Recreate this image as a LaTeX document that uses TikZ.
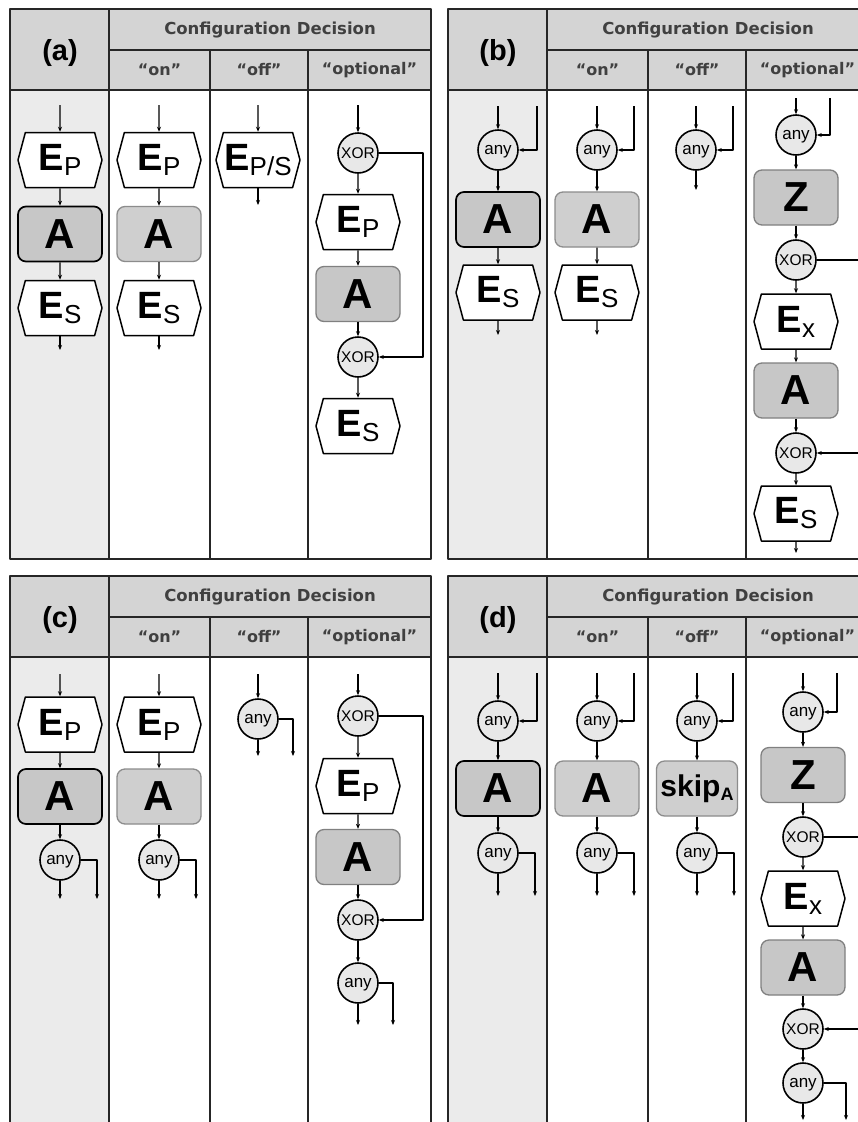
\documentclass[tikz,border=0pt]{standalone}
\usepackage{fontspec}
\setmainfont{Liberation Sans}
\newfontfamily\hdfont{DejaVu Sans}
\usetikzlibrary{shapes.symbols,arrows.meta}

\newcommand{\Ev}[1]{{\fontsize{38}{38}\selectfont\bfseries E}\raisebox{-5pt}{\fontsize{26}{26}\selectfont #1}}
\newcommand{\Act}[1]{{\fontsize{42}{42}\selectfont\bfseries #1}}
\newcommand{\Skip}{{\fontsize{30}{30}\selectfont\bfseries skip}\raisebox{-4pt}{\fontsize{18}{18}\selectfont\bfseries A}}

% frame of one panel: #1 letter, #2 left, #3 top, #4 bottom
\newcommand{\drawpanel}[4]{%
  \fill[black!8] (#2,#3+81) rectangle (#2+99,#4);
  \fill[black!17] (#2,#3) rectangle (#2+421,#3+81);
  \draw[grid] (#2+99,#3+41) -- (#2+421,#3+41);
  \draw[grid] (#2,#3+81) -- (#2+421,#3+81);
  \draw[grid] (#2+99,#3) -- (#2+99,#4);
  \draw[grid] (#2+200,#3+41) -- (#2+200,#4);
  \draw[grid] (#2+298,#3+41) -- (#2+298,#4);
  \draw[grid] (#2,#3) rectangle (#2+421,#4);
  \node[lbl] (#1lbl) at (#2+50,#3+44) {(#1)};
  \node[hdr] (#1cfg) at (#2+260,#3+21) {Configuration Decision};
  \node[subhdr] (#1on) at (#2+149.5,#3+61) {“on”};
  \node[subhdr] (#1off) at (#2+249,#3+61) {“off”};
  \node[subhdr] (#1opt) at (#2+359.5,#3+61) {“optional”};
}

\begin{document}
\begin{tikzpicture}[x=1pt, y=-1pt, line join=round,
  grid/.style={line width=1.6pt, black!85},
  hexa/.style={signal, signal to=east and west, signal pointer angle=150, draw, line width=1.5pt,
    fill=white, minimum width=84pt, minimum height=55pt, inner sep=0pt},
  actdark/.style={draw, line width=1.7pt, rounded corners=8pt, fill=black!22,
    minimum width=84pt, minimum height=55pt, inner sep=0pt},
  actlight/.style={actdark, draw=black!45, line width=1.3pt, fill=black!19},
  actmid/.style={actdark, draw=black!50, line width=1.3pt},
  xorn/.style={circle, draw, line width=1.6pt, fill=black!9, minimum size=40pt, inner sep=0pt,
    font=\fontsize{15.5}{15.5}\selectfont},
  anyn/.style={xorn, font=\fontsize{17}{17}\selectfont, text depth=1pt},
  flow/.style={-{Stealth[length=5pt,width=4pt]}, line width=1.2pt},
  link/.style={line width=1.2pt},
  lbl/.style={font=\fontsize{29}{29}\selectfont\bfseries},
  hdr/.style={font=\hdfont\fontsize{16.5}{17}\selectfont\bfseries, text=black!75},
  subhdr/.style={font=\hdfont\fontsize{16}{17}\selectfont\bfseries, text=black!75}]

\useasboundingbox (0,0) rectangle (858,1122);
\clip (0,0) rectangle (858,1122);
\fill[white] (0,0) rectangle (858,1122);

\drawpanel{a}{10}{9}{559}
\drawpanel{b}{448}{9}{559}
\drawpanel{c}{10}{576}{1135}
\drawpanel{d}{448}{576}{1135}

% ---- panel (a)
\coordinate (a1in) at (60,105);
\node[hexa] (a1p) at (60,160) {\Ev{P}};
\node[actdark] (a1a) at (60,234) {\Act{A}};
\node[hexa] (a1s) at (60,308) {\Ev{S}};
\coordinate (a1out) at (60,350);
\coordinate (a2in) at (159,105);
\node[hexa] (a2p) at (159,160) {\Ev{P}};
\node[actlight] (a2a) at (159,234) {\Act{A}};
\node[hexa] (a2s) at (159,308) {\Ev{S}};
\coordinate (a2out) at (159,350);
\coordinate (a3in) at (258,105);
\node[hexa] (a3p) at (258,160) {\Ev{P/S}};
\coordinate (a3out) at (258,205);
\coordinate (a4in) at (358,105);
\node[xorn] (a4x1) at (358,153) {XOR};
\node[hexa] (a4p) at (358,222) {\Ev{P}};
\node[actmid] (a4a) at (358,294) {\Act{A}};
\node[xorn] (a4x2) at (358,357) {XOR};
\node[hexa] (a4s) at (358,426) {\Ev{S}};
\coordinate (a4fb) at (423,153);
\foreach \u/\v in {a1in/a1p, a1p/a1a, a1a/a1s, a1s/a1out, a2in/a2p, a2p/a2a, a2a/a2s, a2s/a2out,
    a3in/a3p, a3p/a3out, a4in/a4x1, a4x1/a4p, a4p/a4a, a4a/a4x2, a4x2/a4s}
  \draw[flow] (\u) -- (\v);
\draw[flow] (a4x1) -- (a4fb) |- (a4x2);

% ---- panel (b)
\coordinate (b1in) at (498,106);
\coordinate (b1sd) at (537,106);
\node[anyn] (b1y) at (498,150) {any};
\node[actdark] (b1a) at (498,219.5) {\Act{A}};
\node[hexa] (b1s) at (498,292.5) {\Ev{S}};
\coordinate (b1out) at (498,335);
\coordinate (b2in) at (597,106);
\coordinate (b2sd) at (634,106);
\node[anyn] (b2y) at (597,150) {any};
\node[actlight] (b2a) at (597,219.5) {\Act{A}};
\node[hexa] (b2s) at (597,292.5) {\Ev{S}};
\coordinate (b2out) at (597,335);
\coordinate (b3in) at (696,106);
\coordinate (b3sd) at (733,106);
\node[anyn] (b3y) at (696,150) {any};
\coordinate (b3out) at (696,190);
\coordinate (b4in) at (796,98);
\coordinate (b4sd) at (830,98);
\node[anyn] (b4y) at (796,135) {any};
\node[actmid] (b4z) at (796,197.5) {\Act{Z}};
\node[xorn] (b4x1) at (796,260) {XOR};
\node[hexa] (b4e) at (796,321.5) {\Ev{x}};
\node[actmid] (b4a) at (796,390.5) {\Act{A}};
\node[xorn] (b4x2) at (796,453) {XOR};
\node[hexa] (b4s) at (796,513.5) {\Ev{S}};
\coordinate (b4out) at (796,553);
\coordinate (b4fo) at (870,260);
\coordinate (b4fi) at (870,453);
\foreach \u/\v in {b1in/b1y, b1y/b1a, b1a/b1s, b1s/b1out, b2in/b2y, b2y/b2a, b2a/b2s, b2s/b2out,
    b3in/b3y, b3y/b3out, b4in/b4y, b4y/b4z, b4z/b4x1, b4x1/b4e, b4e/b4a, b4a/b4x2, b4x2/b4s, b4s/b4out, b4fi/b4x2}
  \draw[flow] (\u) -- (\v);
\foreach \u/\v in {b1sd/b1y, b2sd/b2y, b3sd/b3y, b4sd/b4y}
  \draw[flow] (\u) |- (\v);
\draw[link] (b4x1) -- (b4fo);

% ---- panel (c)
\coordinate (c1in) at (60,674);
\node[hexa] (c1p) at (60,724.5) {\Ev{P}};
\node[actdark] (c1a) at (60,796.5) {\Act{A}};
\node[anyn] (c1y) at (60,860) {any};
\coordinate (c1out) at (60,899);
\coordinate (c1br) at (97,899);
\coordinate (c2in) at (159,674);
\node[hexa] (c2p) at (159,724.5) {\Ev{P}};
\node[actlight] (c2a) at (159,796.5) {\Act{A}};
\node[anyn] (c2y) at (159,860) {any};
\coordinate (c2out) at (159,899);
\coordinate (c2br) at (196,899);
\coordinate (c3in) at (258,674);
\node[anyn] (c3y) at (258,719) {any};
\coordinate (c3out) at (258,756);
\coordinate (c3br) at (293,756);
\coordinate (c4in) at (358,674);
\node[xorn] (c4x1) at (358,716) {XOR};
\node[hexa] (c4p) at (358,786) {\Ev{P}};
\node[actmid] (c4a) at (358,857) {\Act{A}};
\node[xorn] (c4x2) at (358,920) {XOR};
\node[anyn] (c4y) at (358,983) {any};
\coordinate (c4out) at (358,1025);
\coordinate (c4br) at (393,1025);
\coordinate (c4fb) at (423,716);
\foreach \u/\v in {c1in/c1p, c1p/c1a, c1a/c1y, c1y/c1out, c2in/c2p, c2p/c2a, c2a/c2y, c2y/c2out,
    c3in/c3y, c3y/c3out, c4in/c4x1, c4x1/c4p, c4p/c4a, c4a/c4x2, c4x2/c4y, c4y/c4out}
  \draw[flow] (\u) -- (\v);
\foreach \u/\v in {c1y/c1br, c2y/c2br, c3y/c3br, c4y/c4br}
  \draw[flow] (\u) -| (\v);
\draw[flow] (c4x1) -- (c4fb) |- (c4x2);

% ---- panel (d)
\coordinate (d1in) at (498,673);
\coordinate (d1sd) at (537,673);
\node[anyn] (d1y) at (498,721) {any};
\node[actdark] (d1a) at (498,788.5) {\Act{A}};
\node[anyn] (d1w) at (498,853) {any};
\coordinate (d1out) at (498,896);
\coordinate (d1br) at (535,896);
\coordinate (d2in) at (597,673);
\coordinate (d2sd) at (634,673);
\node[anyn] (d2y) at (597,721) {any};
\node[actlight] (d2a) at (597,788.5) {\Act{A}};
\node[anyn] (d2w) at (597,853) {any};
\coordinate (d2out) at (597,896);
\coordinate (d2br) at (634,896);
\coordinate (d3in) at (697,673);
\coordinate (d3sd) at (733,673);
\node[anyn] (d3y) at (697,721) {any};
\node[actlight, minimum width=81pt] (d3k) at (697,788.5) {\Skip};
\node[anyn] (d3w) at (697,853) {any};
\coordinate (d3out) at (697,896);
\coordinate (d3br) at (734,896);
\coordinate (d4in) at (803,673);
\coordinate (d4sd) at (837,673);
\node[anyn] (d4y) at (803,712) {any};
\node[actmid] (d4z) at (803,775) {\Act{Z}};
\node[xorn] (d4x1) at (803,837) {XOR};
\node[hexa] (d4e) at (803,898.5) {\Ev{x}};
\node[actmid] (d4a) at (803,967.5) {\Act{A}};
\node[xorn] (d4x2) at (803,1029) {XOR};
\node[anyn] (d4w) at (803,1083) {any};
\coordinate (d4out) at (803,1120);
\coordinate (d4br) at (846,1120);
\coordinate (d4fo) at (870,837);
\coordinate (d4fi) at (870,1029);
\foreach \u/\v in {d1in/d1y, d1y/d1a, d1a/d1w, d1w/d1out, d2in/d2y, d2y/d2a, d2a/d2w, d2w/d2out,
    d3in/d3y, d3y/d3k, d3k/d3w, d3w/d3out, d4in/d4y, d4y/d4z, d4z/d4x1, d4x1/d4e, d4e/d4a, d4a/d4x2,
    d4x2/d4w, d4w/d4out, d4fi/d4x2}
  \draw[flow] (\u) -- (\v);
\foreach \u/\v in {d1sd/d1y, d2sd/d2y, d3sd/d3y, d4sd/d4y}
  \draw[flow] (\u) |- (\v);
\foreach \u/\v in {d1w/d1br, d2w/d2br, d3w/d3br, d4w/d4br}
  \draw[flow] (\u) -| (\v);
\draw[link] (d4x1) -- (d4fo);
\end{tikzpicture}
\end{document}
